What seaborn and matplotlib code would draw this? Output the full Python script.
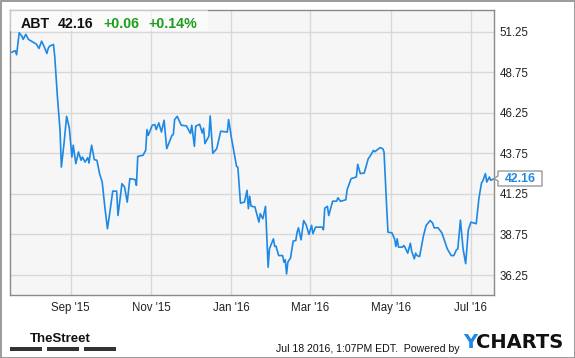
import matplotlib
matplotlib.use("Agg")
import matplotlib.pyplot as plt
from matplotlib.patches import Rectangle, Polygon
import seaborn as sns
import pandas as pd

dates = [
    "2015-07-18", "2015-07-21", "2015-07-22", "2015-07-24", "2015-07-26", "2015-07-27", "2015-07-29", "2015-07-31",
    "2015-08-03", "2015-08-06", "2015-08-08", "2015-08-10", "2015-08-12", "2015-08-14", "2015-08-15", "2015-08-16",
    "2015-08-19", "2015-08-20", "2015-08-22", "2015-08-24", "2015-08-25", "2015-08-27", "2015-08-29", "2015-08-31",
    "2015-09-02", "2015-09-03", "2015-09-05", "2015-09-07", "2015-09-09", "2015-09-10", "2015-09-12", "2015-09-14",
    "2015-09-15", "2015-09-16", "2015-09-17", "2015-09-19", "2015-09-21", "2015-09-23", "2015-09-25", "2015-09-27",
    "2015-09-29", "2015-10-01", "2015-10-03", "2015-10-06", "2015-10-07", "2015-10-10", "2015-10-12", "2015-10-14",
    "2015-10-16", "2015-10-20", "2015-10-21", "2015-10-22", "2015-10-26", "2015-10-28", "2015-10-29", "2015-10-30",
    "2015-11-02", "2015-11-04", "2015-11-05", "2015-11-07", "2015-11-09", "2015-11-11", "2015-11-13", "2015-11-17",
    "2015-11-18", "2015-11-19", "2015-11-21", "2015-11-24", "2015-11-28", "2015-12-01", "2015-12-02", "2015-12-04",
    "2015-12-05", "2015-12-08", "2015-12-10", "2015-12-11", "2015-12-12", "2015-12-15", "2015-12-16", "2015-12-18",
    "2015-12-21", "2015-12-24", "2015-12-29", "2015-12-30", "2016-01-01", "2016-01-05", "2016-01-06", "2016-01-08",
    "2016-01-11", "2016-01-13", "2016-01-14", "2016-01-15", "2016-01-16", "2016-01-19", "2016-01-22", "2016-01-23",
    "2016-01-25", "2016-01-27", "2016-01-29", "2016-01-30", "2016-02-02", "2016-02-03", "2016-02-04", "2016-02-06",
    "2016-02-09", "2016-02-10", "2016-02-11", "2016-02-12", "2016-02-13", "2016-02-15", "2016-02-17", "2016-02-19",
    "2016-02-20", "2016-02-21", "2016-02-23", "2016-02-25", "2016-02-27", "2016-02-29", "2016-03-02", "2016-03-03",
    "2016-03-05", "2016-03-10", "2016-03-11", "2016-03-12", "2016-03-14", "2016-03-15", "2016-03-18", "2016-03-21",
    "2016-03-22", "2016-03-24", "2016-03-28", "2016-03-29", "2016-04-01", "2016-04-05", "2016-04-06", "2016-04-08",
    "2016-04-11", "2016-04-14", "2016-04-15", "2016-04-18", "2016-04-19", "2016-04-22", "2016-04-23", "2016-04-25",
    "2016-04-26", "2016-04-28", "2016-04-29", "2016-05-02", "2016-05-04", "2016-05-05", "2016-05-06", "2016-05-07",
    "2016-05-10", "2016-05-11", "2016-05-12", "2016-05-14", "2016-05-16", "2016-05-17", "2016-05-19", "2016-05-20",
    "2016-05-21", "2016-05-23", "2016-05-26", "2016-05-28", "2016-05-31", "2016-06-02", "2016-06-03", "2016-06-06",
    "2016-06-08", "2016-06-09", "2016-06-11", "2016-06-13", "2016-06-16", "2016-06-18", "2016-06-20", "2016-06-21",
    "2016-06-23", "2016-06-25", "2016-06-27", "2016-06-29", "2016-07-01", "2016-07-05", "2016-07-07", "2016-07-09",
    "2016-07-10", "2016-07-12", "2016-07-13", "2016-07-15", "2016-07-16", "2016-07-18",
]
prices = [
    49.97, 50.07, 49.82, 51.18, 50.97, 50.77, 51.08, 50.77,
    50.62, 50.48, 50.21, 50.66, 50.31, 49.90, 50.21, 50.35,
    50.46, 49.69, 47.23, 45.17, 42.90, 44.35, 46.03, 45.33,
    43.52, 44.25, 43.11, 43.83, 43.32, 43.52, 43.21, 43.48,
    43.15, 43.77, 44.25, 43.36, 43.32, 42.50, 41.98, 40.44,
    39.10, 40.23, 41.42, 41.42, 39.92, 41.88, 41.67, 40.74,
    42.19, 42.13, 41.78, 43.56, 43.63, 43.93, 45.21, 44.86,
    45.48, 45.52, 45.21, 45.62, 45.06, 45.79, 44.04, 44.86,
    44.90, 45.83, 46.03, 45.48, 45.44, 44.97, 45.48, 44.18,
    45.42, 45.54, 45.00, 45.30, 44.35, 44.80, 46.05, 43.75,
    44.04, 45.11, 45.06, 45.83, 44.76, 42.95, 42.90, 40.68,
    40.74, 41.47, 40.34, 41.10, 40.50, 40.44, 39.51, 40.03,
    39.72, 40.48, 36.73, 37.87, 38.48, 38.01, 38.03, 37.45,
    37.45, 37.04, 37.19, 36.32, 37.05, 37.30, 38.34, 38.38,
    38.89, 39.16, 38.42, 39.61, 39.31, 38.75, 39.31, 38.80,
    39.20, 39.20, 39.04, 40.37, 40.48, 39.92, 40.80, 40.80,
    41.01, 40.79, 40.89, 41.51, 42.19, 42.29, 43.07, 42.50,
    42.54, 43.42, 43.52, 43.93, 43.85, 44.04, 44.10, 44.04,
    43.83, 40.44, 38.89, 38.85, 38.48, 38.01, 38.48, 37.97,
    37.97, 38.07, 37.95, 37.60, 38.21, 37.72, 37.25, 37.60,
    37.45, 37.39, 38.69, 39.31, 39.61, 39.44, 39.16, 39.16,
    38.95, 38.83, 38.34, 37.87, 37.45, 37.45, 37.81, 37.85,
    39.63, 37.87, 36.95, 39.04, 39.51, 39.41, 40.95, 41.92,
    42.04, 42.50, 41.98, 42.29, 42.09, 42.16,
]
tick_dates = ["2015-09-01", "2015-11-01", "2016-01-01", "2016-03-01", "2016-05-01", "2016-07-01"]
tick_labels = ["Sep '15", "Nov '15", "Jan '16", "Mar '16", "May '16", "Jul '16"]
y_ticks = [36.25, 38.75, 41.25, 43.75, 46.25, 48.75, 51.25]
ticker = "ABT"
last_price = "42.16"
change = "+0.06"
change_pct = "+0.14%"
footer_text = "Jul 18 2016, 1:07PM EDT.  Powered by"

df = pd.DataFrame({"date": pd.to_datetime(dates), "price": prices})

sns.set_theme(style="white")
plt.rcParams["font.family"] = ["Liberation Sans", "DejaVu Sans"]

W, H = 575, 358
fig = plt.figure(figsize=(W / 100, H / 100), dpi=100)
fig.patch.set_facecolor("white")

L, R, T, B = 10, 494, 10, 295
ax = fig.add_axes([L / W, 1 - B / H, (R - L) / W, (B - T) / H])
ax.set_facecolor("#f6f6f6")

line_color = "#1e88e5"
sns.lineplot(data=df, x="date", y="price", ax=ax, color=line_color, linewidth=1.2)

ax.set_xlim(pd.Timestamp("2015-07-17"), pd.Timestamp("2016-07-18 12:00"))
ax.set_ylim(35.02, 52.58)

ax.set_xticks(pd.to_datetime(tick_dates))
ax.set_xticklabels(tick_labels)
ax.set_yticks(y_ticks)
ax.set_yticklabels([f"{v:.2f}" for v in y_ticks])
ax.yaxis.tick_right()
ax.tick_params(axis="both", length=0, labelsize=8.3, colors="#222222")
ax.tick_params(axis="y", pad=4)
ax.tick_params(axis="x", pad=5)
ax.set_xlabel("")
ax.set_ylabel("")
ax.grid(True, color="#d8d8d8", linewidth=1)
for s in ax.spines.values():
    s.set_visible(True)
    s.set_color("#8a8a8a")
    s.set_linewidth(1)

# header box
fig.patches.append(Rectangle((L / W, 1 - 31 / H), (208 - L) / W, 21 / H, transform=fig.transFigure,
                             facecolor="white", alpha=0.55, edgecolor="none", zorder=5))
hy = 1 - 28 / H
fig.text(21 / W, hy, ticker, fontsize=10.2, fontweight="bold", color="#111111", va="baseline", zorder=6)
fig.text(58 / W, hy, last_price, fontsize=10.2, fontweight="bold", color="#111111", va="baseline", zorder=6)
fig.text(103 / W, hy, change, fontsize=10.2, fontweight="bold", color="#1e9e1e", va="baseline", zorder=6)
fig.text(148 / W, hy, change_pct, fontsize=10.2, fontweight="bold", color="#1e9e1e", va="baseline", zorder=6)

# last value flag
bx0, bx1, by0, by1 = 498, 542, 171, 186
fig.patches.append(Polygon([(bx0 / W, 1 - by0 / H), (bx1 / W, 1 - by0 / H), (bx1 / W, 1 - by1 / H),
                            (bx0 / W, 1 - by1 / H), (bx0 / W, 1 - 181 / H), (494 / W, 1 - 178.5 / H),
                            (bx0 / W, 1 - 176 / H)], closed=True, transform=fig.transFigure,
                           facecolor="white", edgecolor="#999999", linewidth=1, zorder=5))
fig.text(520 / W, 1 - 178.5 / H, last_price, fontsize=8.8, fontweight="bold", color=line_color,
         ha="center", va="center", zorder=6)

# footer
fig.text(60 / W, 1 - 342 / H, "TheStreet", fontsize=9.5, fontweight="bold", color="#111111",
         ha="center", va="baseline")
for x0 in (10, 47, 84):
    fig.patches.append(Rectangle((x0 / W, 1 - 351 / H), 32 / W, 4 / H, transform=fig.transFigure,
                                 facecolor="#333333", edgecolor="none"))
fig.text(459 / W, 1 - 349 / H, footer_text, fontsize=7.6, color="#111111", ha="right", va="center")
fig.text(463 / W, 1 - 348 / H, "Y", fontsize=14, fontweight="bold", color="#1e88e5", ha="left",
         va="baseline", family=["DejaVu Sans"])
fig.text(476 / W, 1 - 348 / H, "CHARTS", fontsize=14, fontweight="bold", color="#111111", ha="left",
         va="baseline", family=["DejaVu Sans"])

# outer border
fig.patches.append(Rectangle((0.5 / W, 0.5 / H), (W - 1) / W, (H - 1) / H, transform=fig.transFigure,
                             facecolor="none", edgecolor="#8a8a8a", linewidth=1.2))

fig.savefig("out.png", dpi=100)
